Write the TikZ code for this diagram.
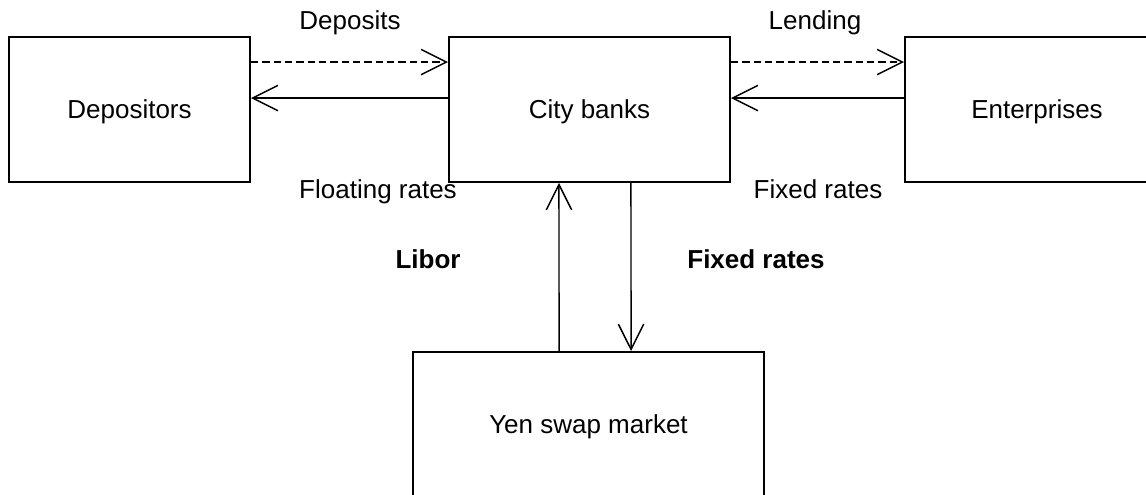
\documentclass[tikz,border=0pt]{standalone}
\usepackage{fontspec}
\setmainfont{Liberation Sans}
\usetikzlibrary{arrows.meta}

\begin{document}
\begin{tikzpicture}[x=0.75pt,y=-0.75pt,font=\fontsize{19.5}{23}\selectfont,
  box/.style={draw,line width=1.4pt,inner sep=0pt,text depth=0pt,minimum height=108.75pt},
  flow/.style={line width=1.1pt,-{Straight Barb[length=19pt,width=19pt,line width=1.1pt]}},
  money/.style={flow,dash pattern=on 5.5pt off 3pt},
  lbl/.style={anchor=base}]
\clip (0,0) rectangle (1146,494);

% the four parties
\node[box,minimum width=180.75pt] (dep) at (129.5,109.5) {Depositors};
\node[box,minimum width=210.75pt] (city) at (589.5,109.5) {City banks};
\node[box,minimum width=198pt] (ent) at (1037,109.5) {Enterprises};
\node[box,minimum width=263.25pt] (swap) at (588.5,424.5) {Yen swap market};

% flows between them
\draw[money] ([yshift=35.6pt]dep.east) -- ([yshift=35.6pt]city.west);
\draw[flow] ([yshift=8.6pt]city.west) -- ([yshift=8.6pt]dep.east);
\draw[money] ([yshift=35.6pt]city.east) -- ([yshift=35.6pt]ent.west);
\draw[flow] ([yshift=8.6pt]ent.west) -- ([yshift=8.6pt]city.east);
\draw[flow] ([xshift=-22.1pt]swap.north) -- ([xshift=-22.9pt]city.south);
\draw[flow] ([xshift=31.1pt]city.south) -- ([xshift=31.9pt]swap.north);

\node[lbl] (deposits) at (350,29) {Deposits};
\node[lbl] (lending) at (815,29) {Lending};
\node[lbl] (floating) at (378,198) {Floating rates};
\node[lbl] (fixed) at (818,198) {Fixed rates};
\node[lbl,font=\fontsize{19.5}{23}\selectfont\bfseries] (libor) at (428,268) {Libor};
\node[lbl,font=\fontsize{19.5}{23}\selectfont\bfseries] (swapfixed) at (756,268) {Fixed rates};

\end{tikzpicture}
\end{document}
